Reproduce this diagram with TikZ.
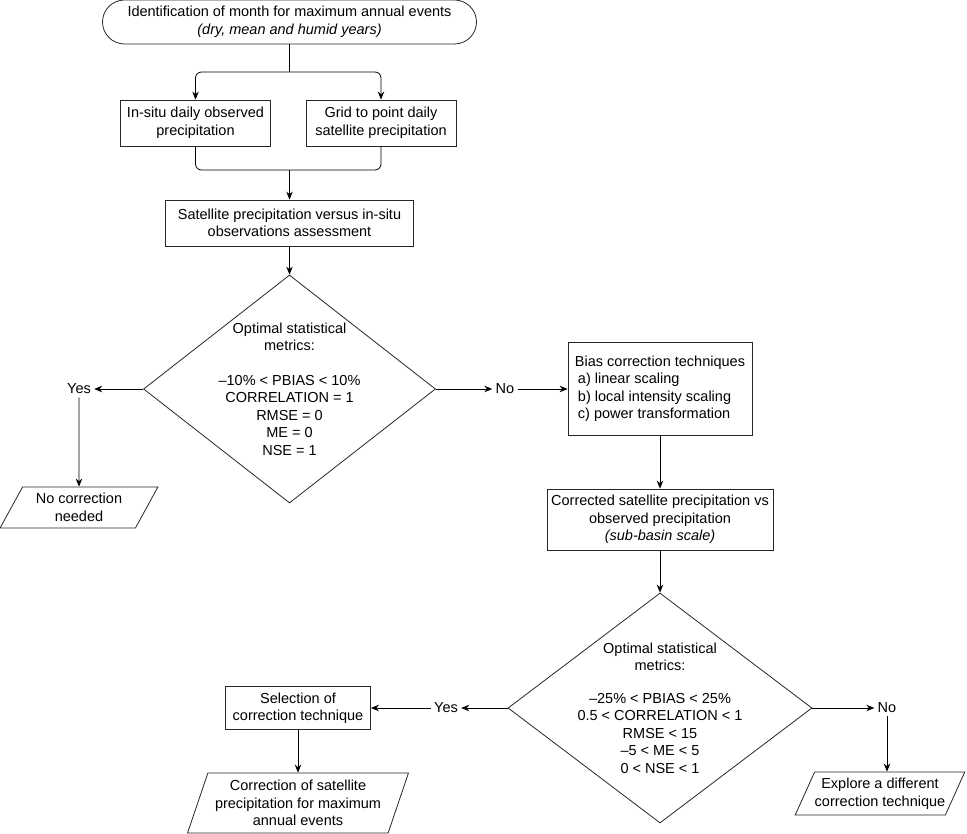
\documentclass[tikz,border=0pt]{standalone}
\usepackage{fontspec}
\setmainfont{Liberation Sans}
\usetikzlibrary{arrows.meta}
\usetikzlibrary{shapes.geometric,shapes.misc}

\begin{document}
\begin{tikzpicture}[x=1pt,y=-1pt,font=\fontsize{14.5}{17.5}\selectfont,line width=0.8pt,
  >={Stealth[length=8pt,width=6.5pt]},
  box/.style={draw=black!85,rectangle,align=center,inner sep=2pt},
  term/.style={draw=black!85,rounded rectangle,align=center,inner sep=2pt},
  decision/.style={draw=black!85,diamond,inner sep=0pt},
  io/.style={draw=black!85,trapezium,trapezium stretches=true,align=center,inner sep=0pt},
  answer/.style={inner sep=3pt}]
\useasboundingbox (0,0) rectangle (967,834);
\node[term,minimum width=378pt,minimum height=44pt] (month) at (289.5,22) {Identification of month for maximum annual events\\\textit{(dry, mean and humid years)}};
\node[box,minimum width=150pt,minimum height=46pt] (insitu) at (195.5,123) {In-situ daily observed\\precipitation};
\node[box,minimum width=150pt,minimum height=46pt] (grid) at (381,123) {Grid to point daily\\satellite precipitation};
\node[box,minimum width=248pt,minimum height=46pt] (assess) at (289.5,223) {Satellite precipitation versus in-situ\\observations assessment};
\node[decision,minimum width=292pt,minimum height=228pt,
  label={[align=center]center:{Optimal statistical\\metrics:\\[17pt]--10\% < PBIAS < 10\%\\CORRELATION = 1\\RMSE = 0\\ME = 0\\NSE = 1}}] (check1) at (289.5,389) {};
\node[answer] (yes1) at (79,389) {Yes};
\node[io,minimum width=158pt,minimum height=41pt,trapezium left angle=58.6,trapezium right angle=121.4] (none) at (79,507.5) {No correction\\needed};
\node[answer] (no1) at (505,389) {No};
\node[box,align=left,minimum width=184pt,minimum height=93pt] (bias) at (660,389) {Bias correction techniques\\\hspace*{3pt}a) linear scaling\\\hspace*{3pt}b) local intensity scaling\\\hspace*{3pt}c) power transformation};
\node[box,minimum width=226pt,minimum height=61pt] (corr) at (660,519.5) {Corrected satellite precipitation vs\\observed precipitation\\\textit{(sub-basin scale)}};
\node[decision,minimum width=304pt,minimum height=230pt,
  label={[align=center]center:{Optimal statistical\\metrics:\\[15pt]--25\% < PBIAS < 25\%\\0.5 < CORRELATION < 1\\RMSE < 15\\--5 < ME < 5\\0 < NSE < 1}}] (check2) at (660,708) {};
\node[answer] (yes2) at (446,708) {Yes};
\node[box,minimum width=145pt,minimum height=43pt] (select) at (298,708) {Selection of\\correction technique};
\node[io,minimum width=221pt,minimum height=60pt,trapezium left angle=67.7,trapezium right angle=112.3] (apply) at (298,803) {Correction of satellite\\precipitation for maximum\\annual events};
\node[answer] (no2) at (887,708) {No};
\node[io,minimum width=170pt,minimum height=43pt,trapezium left angle=58,trapezium right angle=122] (explore) at (880,793.5) {Explore a different\\correction technique};
\coordinate (split) at (289.5,72);
\coordinate (merge) at (289.5,170);
\draw (month) -- (split);
\draw[->,rounded corners=6pt] (split) -| (insitu);
\draw[->,rounded corners=6pt] (split) -| (grid);
\draw[rounded corners=6pt] (insitu) |- (merge);
\draw[rounded corners=6pt] (grid) |- (merge);
\path[->]
  (merge) edge (assess)
  (assess) edge (check1)
  (check1) edge (yes1)
  (yes1) edge (none)
  (check1) edge (no1)
  (no1) edge (bias)
  (bias) edge (corr)
  (corr) edge (check2)
  (check2) edge (yes2)
  (yes2) edge (select)
  (select) edge (apply)
  (check2) edge (no2)
  (no2.south) edge (no2.south |- explore.north);
\end{tikzpicture}
\end{document}
